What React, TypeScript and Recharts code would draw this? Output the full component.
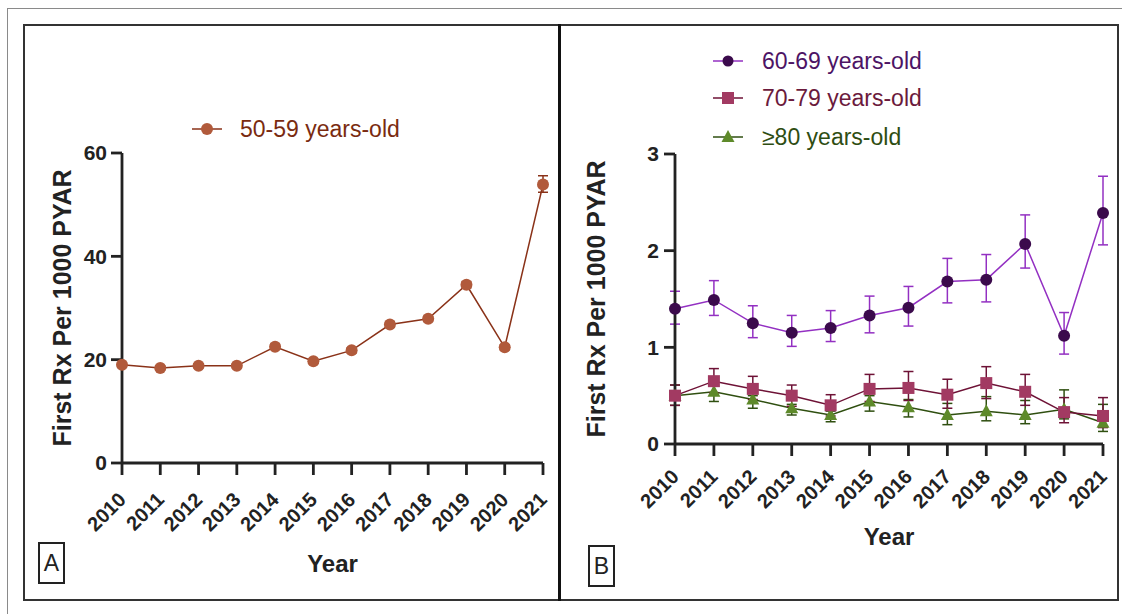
import React from 'react';
import { LineChart, Line, XAxis, YAxis, ErrorBar } from 'recharts';

// years on the x axis, shared by both panels
const years = ['2010', '2011', '2012', '2013', '2014', '2015', '2016', '2017', '2018', '2019', '2020', '2021'];

// panel A: 50-59 years-old
const rate50 = [19.0, 18.4, 18.8, 18.8, 22.5, 19.7, 21.8, 26.8, 27.9, 34.5, 22.4, 53.9];
const low50 = [18.6, 18.0, 18.4, 18.4, 22.0, 19.3, 21.3, 26.3, 27.4, 33.9, 21.9, 52.4];
const high50 = [19.4, 18.8, 19.2, 19.2, 23.0, 20.1, 22.3, 27.3, 28.4, 35.1, 22.9, 55.6];

// panel B
const rate60 = [1.40, 1.49, 1.25, 1.15, 1.20, 1.33, 1.41, 1.68, 1.70, 2.07, 1.12, 2.39];
const low60 = [1.24, 1.33, 1.10, 1.01, 1.06, 1.15, 1.22, 1.46, 1.47, 1.82, 0.93, 2.06];
const high60 = [1.58, 1.69, 1.43, 1.33, 1.38, 1.53, 1.63, 1.92, 1.96, 2.37, 1.36, 2.77];

const rate70 = [0.50, 0.65, 0.57, 0.50, 0.40, 0.57, 0.58, 0.51, 0.63, 0.54, 0.33, 0.29];
const low70 = [0.40, 0.53, 0.46, 0.39, 0.29, 0.44, 0.45, 0.37, 0.47, 0.40, 0.22, 0.17];
const high70 = [0.61, 0.78, 0.70, 0.61, 0.51, 0.72, 0.75, 0.67, 0.80, 0.72, 0.48, 0.48];

const rate80 = [0.50, 0.54, 0.46, 0.37, 0.30, 0.44, 0.38, 0.30, 0.34, 0.30, 0.36, 0.22];
const low80 = [0.40, 0.44, 0.37, 0.30, 0.23, 0.34, 0.28, 0.20, 0.24, 0.21, 0.26, 0.13];
const high80 = [0.61, 0.60, 0.50, 0.41, 0.34, 0.50, 0.46, 0.42, 0.49, 0.45, 0.56, 0.41];

const ticksA = [0, 20, 40, 60];
const ticksB = [0, 1, 2, 3];

const FONT = '"Liberation Sans", Arial, Helvetica, sans-serif';
const AXIS = '#222';

const errs = (v: number[], lo: number[], hi: number[]) => v.map((d, i) => [d - lo[i], hi[i] - d]);

const e50 = errs(rate50, low50, high50);
const e60 = errs(rate60, low60, high60);
const e70 = errs(rate70, low70, high70);
const e80 = errs(rate80, low80, high80);

const dataA = years.map((year, i) => ({ year, r50: rate50[i], e50: e50[i] }));
const dataB = years.map((year, i) => ({
  year,
  r60: rate60[i],
  e60: e60[i],
  r70: rate70[i],
  e70: e70[i],
  r80: rate80[i],
  e80: e80[i],
}));

const C = {
  dot50: '#B15A3B', line50: '#8A3218', text50: '#7A2B10',
  dot60: '#3B0A4C', line60: '#9330C2', text60: '#4D1465',
  dot70: '#A23A62', line70: '#6E1236', text70: '#6B1A3C',
  dot80: '#5E8A2A', line80: '#2F4F10', text80: '#2E4D12',
};

const circleDot = (fill: string) => (p: any) => (
  <circle key={`c${p.index}`} cx={p.cx} cy={p.cy} r={6} fill={fill} />
);
const squareDot = (fill: string) => (p: any) => (
  <rect key={`s${p.index}`} x={p.cx - 6} y={p.cy - 6} width={12} height={12} fill={fill} />
);
const triangleDot = (fill: string) => (p: any) => (
  <path key={`t${p.index}`} d={`M${p.cx},${p.cy - 7} L${p.cx + 6.5},${p.cy + 5} L${p.cx - 6.5},${p.cy + 5} Z`} fill={fill} />
);

const yearTick = (drop: number) => (p: any) => {
  const x = p.x + 5;
  const y = p.y + drop;
  return (
    <text x={x} y={y} transform={`rotate(-45, ${x}, ${y})`} textAnchor="end" fontSize={20} fontWeight={700} fill={AXIS} fontFamily={FONT}>
      {p.payload.value}
    </text>
  );
};

const axisLine = { stroke: AXIS, strokeWidth: 2.8 };
const yTick = { fontSize: 21, fontWeight: 700, fill: AXIS, fontFamily: FONT };
const titleStyle = { fontSize: 24, fontWeight: 700, fill: AXIS, fontFamily: FONT };

function PanelBox({ letter, left, top }: { letter: string; left: number; top: number }) {
  return (
    <div
      style={{
        position: 'absolute', left, top, width: 27, height: 42, boxSizing: 'border-box',
        border: '2px solid #222', fontSize: 23, lineHeight: '38px', textAlign: 'center', color: '#222',
      }}
    >
      {letter}
    </div>
  );
}

export default function App() {
  return (
    <div style={{ position: 'absolute', left: 0, top: 0, width: 1122, height: 614, background: '#fff', fontFamily: FONT, overflow: 'hidden' }}>
      {/* outer gray frame */}
      <div style={{ position: 'absolute', left: 7, top: 8, width: 1130, height: 620, border: '1.5px solid #8a8a8a' }} />
      {/* inner black frame and divider */}
      <div style={{ position: 'absolute', left: 23, top: 24, width: 1096, height: 577, boxSizing: 'border-box', border: '2px solid #333' }} />
      <div style={{ position: 'absolute', left: 558, top: 24, width: 2.5, height: 577, background: '#111' }} />

      <div style={{ position: 'absolute', left: 0, top: 0 }}>
        <LineChart width={560} height={614} data={dataA} margin={{ top: 153, right: 17, bottom: 36, left: 52 }}>
          <XAxis
            dataKey="year"
            interval={0}
            height={115}
            tickSize={12}
            axisLine={axisLine}
            tickLine={axisLine}
            tick={yearTick(24)}
            label={{ value: 'Year', position: 'insideBottom', offset: 6, ...titleStyle }}
          />
          <YAxis
            domain={[0, 60]}
            ticks={ticksA}
            width={70}
            tickSize={11}
            tickMargin={4}
            axisLine={axisLine}
            tickLine={axisLine}
            tick={yTick}
            label={{ value: 'First Rx Per 1000 PYAR', angle: -90, position: 'insideLeft', offset: 10, ...titleStyle, fontSize: 25, style: { textAnchor: 'middle' } }}
          />
          <Line dataKey="r50" stroke={C.line50} strokeWidth={1.5} dot={circleDot(C.dot50)} activeDot={false} isAnimationActive={false}>
            <ErrorBar dataKey="e50" direction="y" width={5} stroke={C.line50} strokeWidth={1.5} />
          </Line>
        </LineChart>
      </div>

      <div style={{ position: 'absolute', left: 560, top: 0 }}>
        <LineChart width={562} height={614} data={dataB} margin={{ top: 154, right: 19, bottom: 65, left: 35 }}>
          <XAxis
            dataKey="year"
            interval={0}
            height={105}
            tickSize={12}
            axisLine={axisLine}
            tickLine={axisLine}
            tick={yearTick(20)}
            label={{ value: 'Year', position: 'insideBottom', offset: 4, ...titleStyle }}
          />
          <YAxis
            domain={[0, 3]}
            ticks={ticksB}
            width={80}
            tickSize={11}
            tickMargin={5}
            axisLine={axisLine}
            tickLine={axisLine}
            tick={yTick}
            label={{ value: 'First Rx Per 1000 PYAR', angle: -90, position: 'insideLeft', offset: 1, ...titleStyle, fontSize: 25, style: { textAnchor: 'middle' } }}
          />
          <Line dataKey="r80" stroke={C.line80} strokeWidth={1.5} dot={triangleDot(C.dot80)} activeDot={false} isAnimationActive={false}>
            <ErrorBar dataKey="e80" direction="y" width={5} stroke={C.line80} strokeWidth={1.5} />
          </Line>
          <Line dataKey="r70" stroke={C.line70} strokeWidth={1.5} dot={squareDot(C.dot70)} activeDot={false} isAnimationActive={false}>
            <ErrorBar dataKey="e70" direction="y" width={5} stroke={C.line70} strokeWidth={1.5} />
          </Line>
          <Line dataKey="r60" stroke={C.line60} strokeWidth={1.5} dot={circleDot(C.dot60)} activeDot={false} isAnimationActive={false}>
            <ErrorBar dataKey="e60" direction="y" width={5} stroke={C.line60} strokeWidth={1.5} />
          </Line>
        </LineChart>
      </div>

      {/* legends */}
      <svg width={1122} height={614} style={{ position: 'absolute', left: 0, top: 0, pointerEvents: 'none' }}>
        <g fontFamily={FONT} fontSize={23}>
          <line x1={192} x2={222} y1={129} y2={129} stroke={C.line50} strokeWidth={1.5} />
          <circle cx={207} cy={129} r={6} fill={C.dot50} />
          <text x={240} y={129} dominantBaseline="central" fill={C.text50}>50-59 years-old</text>

          <line x1={713} x2={743} y1={61} y2={61} stroke={C.line60} strokeWidth={1.5} />
          <circle cx={728} cy={61} r={5.5} fill={C.dot60} />
          <text x={762} y={61} dominantBaseline="central" fill={C.text60}>60-69 years-old</text>

          <line x1={713} x2={743} y1={98} y2={98} stroke={C.line70} strokeWidth={1.5} />
          <rect x={722} y={92} width={12} height={12} fill={C.dot70} />
          <text x={762} y={98} dominantBaseline="central" fill={C.text70}>70-79 years-old</text>

          <line x1={713} x2={743} y1={137} y2={137} stroke={C.line80} strokeWidth={1.5} />
          <path d="M728,130 L734.5,142 L721.5,142 Z" fill={C.dot80} />
          <text x={762} y={137} dominantBaseline="central" fill={C.text80}>≥80 years-old</text>
        </g>
      </svg>

      <PanelBox letter="A" left={38} top={542} />
      <PanelBox letter="B" left={588} top={545} />
    </div>
  );
}
